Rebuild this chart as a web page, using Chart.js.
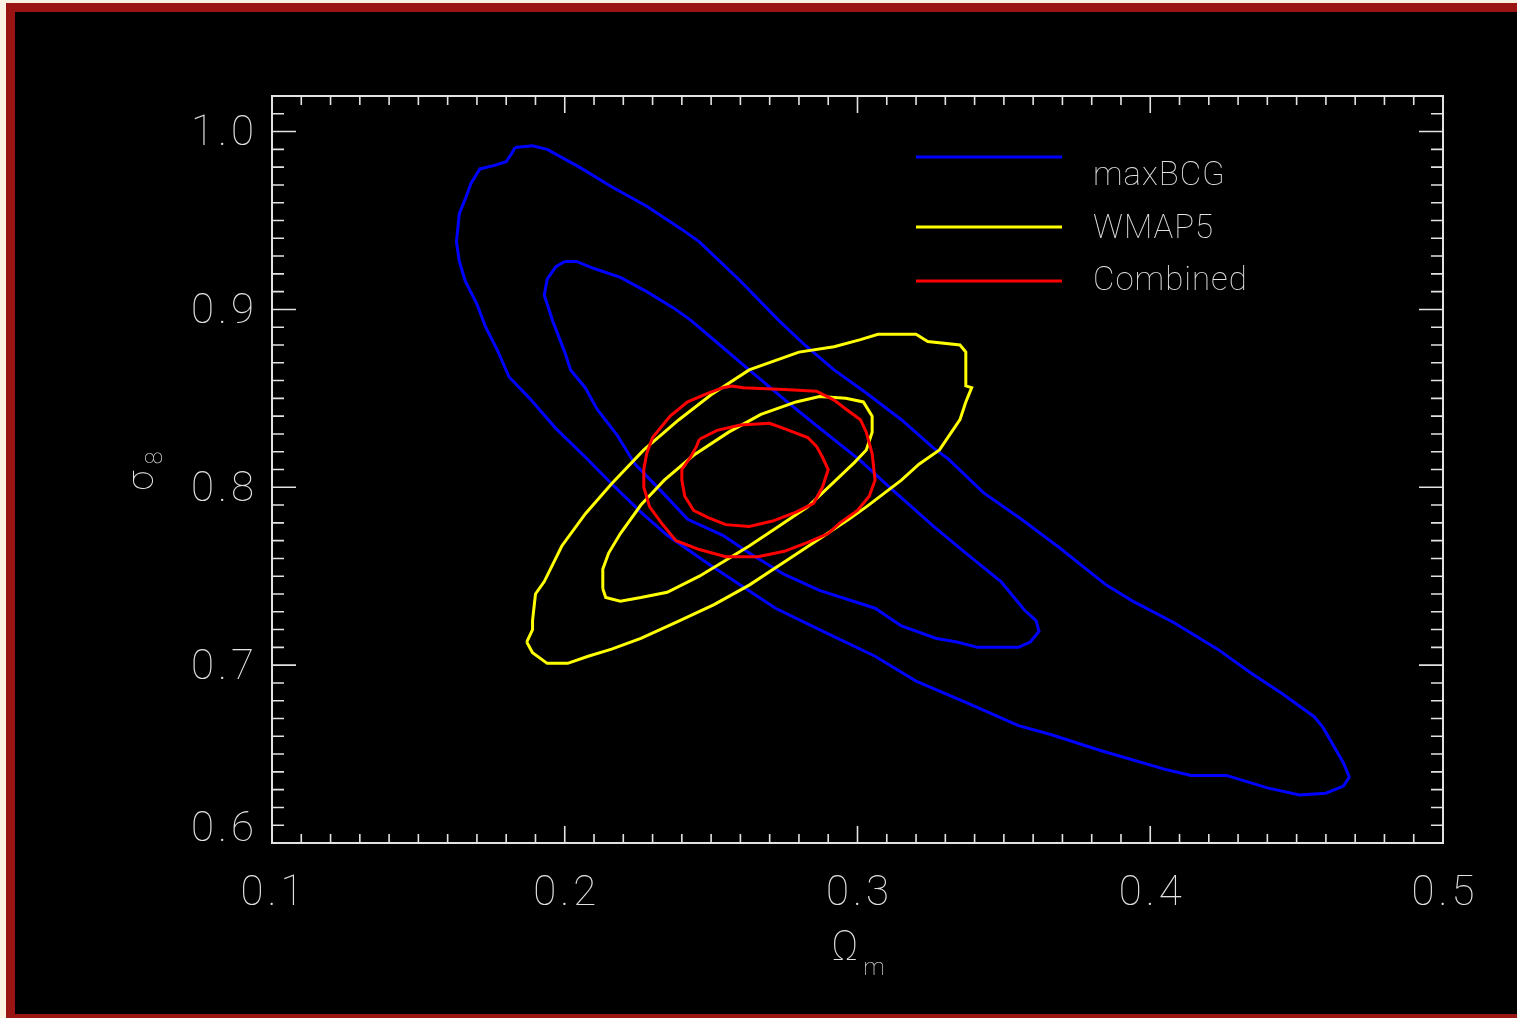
<!DOCTYPE html>
<html>
<head>
<meta charset="utf-8">
<title>sigma8 vs Omega_m</title>
<script src="https://cdn.jsdelivr.net/npm/chart.js@4.4.0/dist/chart.umd.min.js"></script>
<style>
  html, body { margin: 0; padding: 0; background: #fbf2e3; }
  #frame {
    position: absolute; left: 6px; top: 3px; width: 1511px; height: 1015px;
    box-sizing: border-box; background: #000;
    border-left: 9px solid #9b1414; border-top: 9px solid #9b1414; border-bottom: 4px solid #9b1414;
  }
  #wrap { position: absolute; left: 0; top: 0; width: 1517px; height: 1018px; }
</style>
</head>
<body>
<div id="frame"></div>
<div id="wrap"><canvas id="contourChart"></canvas></div>
<script>
// axis ticks
const xTickValues = [0.1, 0.2, 0.3, 0.4, 0.5];
const xTickLabels = ["0.1", "0.2", "0.3", "0.4", "0.5"];
const yTickValues = [0.6, 0.7, 0.8, 0.9, 1.0];
const yTickLabels = ["0.6", "0.7", "0.8", "0.9", "1.0"];

// legend entries
const seriesLabels = ["maxBCG", "WMAP5", "Combined"];
const seriesColors = ["#0000ff", "#ffff00", "#ff0000"];

// contour paths, [Omega_m, sigma_8]
const maxbcgOuter = [
  [0.183,0.991],[0.189,0.992],[0.194,0.990],[0.205,0.980],[0.216,0.969],[0.228,0.958],[0.240,0.945],
  [0.246,0.938],[0.260,0.916],[0.273,0.894],[0.282,0.880],[0.292,0.866],[0.303,0.853],[0.315,0.838],
  [0.326,0.822],[0.331,0.816],[0.343,0.797],[0.356,0.782],[0.369,0.766],[0.385,0.745],[0.394,0.736],
  [0.408,0.724],[0.423,0.709],[0.434,0.696],[0.445,0.684],[0.456,0.671],[0.459,0.665],[0.466,0.645],
  [0.468,0.637],[0.466,0.632],[0.460,0.628],[0.451,0.627],[0.440,0.631],[0.426,0.638],[0.414,0.638],
  [0.406,0.641],[0.383,0.652],[0.366,0.661],[0.355,0.666],[0.337,0.679],[0.320,0.691],[0.315,0.696],
  [0.306,0.705],[0.287,0.720],[0.272,0.732],[0.261,0.744],[0.249,0.757],[0.235,0.773],[0.226,0.786],
  [0.216,0.802],[0.207,0.817],[0.197,0.833],[0.188,0.850],[0.181,0.862],[0.177,0.877],[0.173,0.890],
  [0.170,0.903],[0.166,0.916],[0.164,0.927],[0.163,0.938],[0.164,0.954],[0.166,0.962],[0.168,0.971],
  [0.171,0.979],[0.176,0.981],[0.180,0.983],[0.182,0.988],[0.183,0.991]
];
const maxbcgInner = [
  [0.200,0.927],[0.204,0.927],[0.210,0.923],[0.219,0.918],[0.228,0.910],[0.237,0.901],[0.243,0.894],
  [0.253,0.880],[0.263,0.866],[0.276,0.848],[0.285,0.836],[0.301,0.815],[0.311,0.800],[0.326,0.778],
  [0.337,0.763],[0.349,0.747],[0.357,0.731],[0.361,0.725],[0.362,0.719],[0.359,0.713],[0.355,0.710],
  [0.341,0.710],[0.334,0.713],[0.327,0.715],[0.315,0.722],[0.306,0.732],[0.287,0.742],[0.275,0.751],
  [0.263,0.763],[0.254,0.773],[0.242,0.782],[0.234,0.796],[0.224,0.813],[0.218,0.829],[0.211,0.844],
  [0.207,0.856],[0.202,0.866],[0.200,0.876],[0.196,0.893],[0.194,0.903],[0.193,0.908],[0.194,0.917],
  [0.197,0.924],[0.200,0.927]
];
const wmapOuter = [
  [0.187,0.713],[0.189,0.720],[0.189,0.725],[0.190,0.740],[0.193,0.747],[0.199,0.767],[0.207,0.785],
  [0.216,0.802],[0.227,0.821],[0.239,0.838],[0.250,0.852],[0.263,0.866],[0.280,0.876],[0.292,0.879],
  [0.301,0.883],[0.307,0.886],[0.320,0.886],[0.324,0.882],[0.335,0.880],[0.337,0.876],[0.337,0.857],
  [0.339,0.856],[0.337,0.848],[0.335,0.838],[0.328,0.821],[0.321,0.813],[0.315,0.804],[0.303,0.789],
  [0.297,0.782],[0.286,0.770],[0.275,0.758],[0.263,0.745],[0.251,0.734],[0.238,0.724],[0.226,0.715],
  [0.216,0.709],[0.208,0.705],[0.201,0.701],[0.194,0.701],[0.189,0.707],[0.187,0.713]
];
const wmapInner = [
  [0.213,0.743],[0.213,0.754],[0.215,0.763],[0.219,0.774],[0.226,0.790],[0.234,0.804],[0.244,0.818],
  [0.256,0.831],[0.267,0.841],[0.279,0.848],[0.287,0.851],[0.296,0.850],[0.302,0.848],[0.305,0.840],
  [0.305,0.831],[0.303,0.821],[0.299,0.814],[0.292,0.803],[0.283,0.789],[0.273,0.778],[0.263,0.767],
  [0.255,0.759],[0.246,0.750],[0.235,0.741],[0.226,0.738],[0.219,0.736],[0.214,0.738],[0.213,0.743]
];
const combinedOuter = [
  [0.257,0.857],[0.261,0.856],[0.275,0.855],[0.286,0.854],[0.292,0.849],[0.296,0.844],[0.301,0.838],
  [0.303,0.831],[0.305,0.819],[0.306,0.804],[0.304,0.795],[0.300,0.787],[0.294,0.780],[0.290,0.774],
  [0.283,0.769],[0.275,0.764],[0.266,0.761],[0.255,0.761],[0.246,0.765],[0.238,0.770],[0.233,0.780],
  [0.229,0.789],[0.227,0.800],[0.227,0.810],[0.228,0.819],[0.230,0.828],[0.236,0.840],[0.242,0.848],
  [0.249,0.853],[0.254,0.856],[0.257,0.857]
];
const combinedInner = [
  [0.246,0.827],[0.252,0.832],[0.260,0.835],[0.270,0.836],[0.275,0.833],[0.283,0.828],[0.286,0.823],
  [0.288,0.817],[0.290,0.810],[0.288,0.800],[0.285,0.791],[0.279,0.786],[0.271,0.781],[0.263,0.778],
  [0.255,0.779],[0.249,0.783],[0.244,0.787],[0.241,0.795],[0.240,0.804],[0.240,0.810],[0.243,0.817],
  [0.245,0.823],[0.246,0.827]
];

const axisColor = "#e2e2e2";
const thinFont = (size) => `100 ${size}px Roboto, "DejaVu Sans", sans-serif`;

function contour(pairs, color, order) {
  return {
    data: pairs.map(([x, y]) => ({ x, y })),
    borderColor: color,
    borderWidth: 3,
    showLine: true,
    pointRadius: 0,
    tension: 0,
    fill: false,
    order: order,
  };
}

// box with inward major/minor ticks on all four sides, labels, titles and legend
const idlFrame = {
  id: "idlFrame",
  afterDraw(chart) {
    const { ctx, chartArea: a, scales: { x, y } } = chart;
    ctx.save();
    ctx.strokeStyle = axisColor;
    ctx.fillStyle = axisColor;

    ctx.lineWidth = 2;
    ctx.strokeRect(a.left, a.top, a.right - a.left, a.bottom - a.top);

    ctx.lineWidth = 1.6;
    ctx.beginPath();
    for (let i = 11; i < 50; i++) {
      const len = i % 10 === 0 ? 17 : 9;
      const px = x.getPixelForValue(i / 100);
      ctx.moveTo(px, a.bottom); ctx.lineTo(px, a.bottom - len);
      ctx.moveTo(px, a.top); ctx.lineTo(px, a.top + len);
    }
    for (let i = 61; i < 102; i++) {
      const len = i % 10 === 0 ? 24 : 12;
      const py = y.getPixelForValue(i / 100);
      ctx.moveTo(a.left, py); ctx.lineTo(a.left + len, py);
      ctx.moveTo(a.right, py); ctx.lineTo(a.right - len, py);
    }
    ctx.stroke();

    // tick labels (wide-set digits)
    ctx.font = thinFont(42);
    ctx.letterSpacing = "4px";
    ctx.textBaseline = "middle";
    ctx.textAlign = "center";
    xTickValues.forEach((v, i) => {
      ctx.fillText(xTickLabels[i], x.getPixelForValue(v) + 2, a.bottom + 51);
    });
    ctx.textAlign = "right";
    yTickValues.forEach((v, i) => {
      const py = Math.min(y.getPixelForValue(v) + 3, a.bottom - 13);
      ctx.fillText(yTickLabels[i], a.left - 14, py);
    });

    // x title: Omega_m
    ctx.letterSpacing = "0px";
    const cx = (a.left + a.right) / 2;
    ctx.textAlign = "left";
    ctx.font = thinFont(42);
    const wOmega = ctx.measureText("\u03A9").width;
    ctx.font = thinFont(24);
    const wSub = ctx.measureText("m").width;
    const x0 = cx - (wOmega + wSub + 4) / 2;
    ctx.font = thinFont(42);
    ctx.fillText("\u03A9", x0, a.bottom + 106);
    ctx.font = thinFont(24);
    ctx.fillText("m", x0 + wOmega + 5, a.bottom + 126);

    // y title: sigma_8, rotated
    ctx.save();
    ctx.translate(146, (a.top + a.bottom) / 2 + 1);
    ctx.rotate(-Math.PI / 2);
    ctx.font = thinFont(36);
    ctx.fillText("\u03C3", -20, -2);
    ctx.font = thinFont(24);
    ctx.fillText("8", 6, 10);
    ctx.restore();

    // legend
    const lx0 = a.left + 644, lx1 = a.left + 790, tx = a.left + 821;
    const lineY = [a.top + 61, a.top + 131, a.top + 185];
    const textY = [a.top + 81, a.top + 134, a.top + 186];
    ctx.font = thinFont(33);
    ctx.letterSpacing = "1px";
    ctx.lineWidth = 3;
    seriesLabels.forEach((label, i) => {
      ctx.strokeStyle = seriesColors[i];
      ctx.beginPath();
      ctx.moveTo(lx0, lineY[i]); ctx.lineTo(lx1, lineY[i]);
      ctx.stroke();
      ctx.fillStyle = axisColor;
      ctx.fillText(label, tx, textY[i]);
    });
    ctx.restore();
  },
};

new Chart(document.getElementById("contourChart"), {
  type: "scatter",
  data: {
    datasets: [
      contour(maxbcgOuter, seriesColors[0], 3),
      contour(maxbcgInner, seriesColors[0], 3),
      contour(wmapOuter, seriesColors[1], 2),
      contour(wmapInner, seriesColors[1], 2),
      contour(combinedOuter, seriesColors[2], 1),
      contour(combinedInner, seriesColors[2], 1),
    ],
  },
  options: {
    responsive: true,
    maintainAspectRatio: false,
    animation: false,
    layout: { padding: { left: 272, right: 74, top: 96, bottom: 175 } },
    scales: {
      x: { type: "linear", min: 0.1, max: 0.5, display: false },
      y: { type: "linear", min: 0.6, max: 1.02, display: false },
    },
    plugins: { legend: { display: false }, tooltip: { enabled: false } },
  },
  plugins: [idlFrame],
});
</script>
</body>
</html>
